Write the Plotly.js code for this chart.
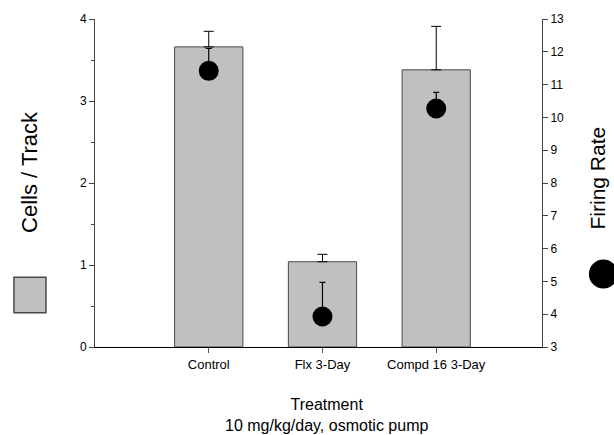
<!DOCTYPE html>
<html>
<head>
<meta charset="utf-8">
<script src="https://cdn.plot.ly/plotly-3.0.1.min.js"></script>
<style>html,body{margin:0;padding:0;background:#fff;}#chart{width:614px;height:435px;}</style>
</head>
<body>
<div id="chart"></div>
<script>
const categories = ['Control', 'Flx 3-Day', 'Compd 16 3-Day'];
const cellsPerTrack = [3.66, 1.04, 3.38];
const cellsErr = [0.19, 0.09, 0.53];
const firingRate = [11.42, 3.93, 10.27];
const firingErr = [0.68, 1.04, 0.49];
const leftTicks = [0, 1, 2, 3, 4];
const rightTicks = [3, 4, 5, 6, 7, 8, 9, 10, 11, 12, 13];

const FONT = 'Liberation Sans, Arial, Helvetica, sans-serif';

const bars = {
  type: 'bar',
  x: categories,
  y: cellsPerTrack,
  width: 0.6,
  marker: {color: '#c0c0c0', line: {color: '#4a4a4a', width: 1}},
  error_y: {type: 'data', array: cellsErr, arrayminus: cellsErr.map(() => 0), symmetric: false,
            color: '#000', thickness: 1, width: 5},
  showlegend: false,
  hoverinfo: 'skip'
};

const dots = {
  type: 'scatter',
  mode: 'markers',
  x: categories,
  y: firingRate,
  yaxis: 'y2',
  marker: {color: '#000', size: 20},
  error_y: {type: 'data', array: firingErr, arrayminus: firingErr.map(() => 0), symmetric: false,
            color: '#000', thickness: 1.2, width: 3},
  showlegend: false,
  hoverinfo: 'skip'
};

const layout = {
  width: 614, height: 435,
  margin: {l: 95, r: 72, t: 19, b: 88},
  paper_bgcolor: '#fff', plot_bgcolor: '#fff',
  font: {family: FONT, color: '#000', size: 12},
  xaxis: {
    type: 'category', range: [-1, 2.93],
    showline: true, linecolor: '#000', linewidth: 1,
    ticks: 'outside', ticklen: 5, tickcolor: '#555', tickwidth: 1,
    showgrid: false, zeroline: false,
    tickfont: {family: FONT, size: 13, color: '#000'}
  },
  yaxis: {
    range: [0, 4], tickvals: leftTicks,
    showline: true, linecolor: '#444', linewidth: 1,
    ticks: 'outside', ticklen: 5, tickcolor: '#444',
    minor: {dtick: 0.5, ticks: 'outside', ticklen: 3, tickcolor: '#444'},
    showgrid: false, zeroline: false,
    tickfont: {family: FONT, size: 12, color: '#000'}
  },
  yaxis2: {
    overlaying: 'y', side: 'right',
    range: [3, 13], tickvals: rightTicks,
    showline: true, linecolor: '#444', linewidth: 1,
    ticks: 'outside', ticklen: 5, tickcolor: '#444',
    showgrid: false, zeroline: false,
    tickfont: {family: FONT, size: 12, color: '#000'}
  },
  annotations: [
    {text: 'Cells / Track', xref: 'paper', yref: 'paper', x: -0.1478, y: 0.5335,
     textangle: -90, showarrow: false, xanchor: 'center', yanchor: 'middle',
     font: {family: FONT, size: 22, color: '#000'}},
    {text: 'Firing Rate', xref: 'paper', yref: 'paper', x: 1.124, y: 0.515,
     textangle: -90, showarrow: false, xanchor: 'center', yanchor: 'middle',
     font: {family: FONT, size: 21, color: '#000'}},
    {text: 'Treatment<br>10 mg/kg/day, osmotic pump', xref: 'paper', yref: 'paper', x: 0.517, y: -0.208,
     showarrow: false, xanchor: 'center', yanchor: 'middle', align: 'center',
     font: {family: FONT, size: 16, color: '#000'}}
  ],
  shapes: [
    {type: 'rect', xref: 'paper', yref: 'paper', x0: -0.1813, x1: -0.1097, y0: 0.1046, y1: 0.2125,
     fillcolor: '#c0c0c0', line: {color: '#4a4a4a', width: 1.5}},
    {type: 'circle', xref: 'paper', yref: 'paper', x0: 1.1048, x1: 1.1697, y0: 0.1784, y1: 0.2668,
     fillcolor: '#000', line: {color: '#000', width: 0}}
  ]
};

Plotly.newPlot('chart', [bars, dots], layout, {displayModeBar: false, staticPlot: true});
</script>
</body>
</html>
